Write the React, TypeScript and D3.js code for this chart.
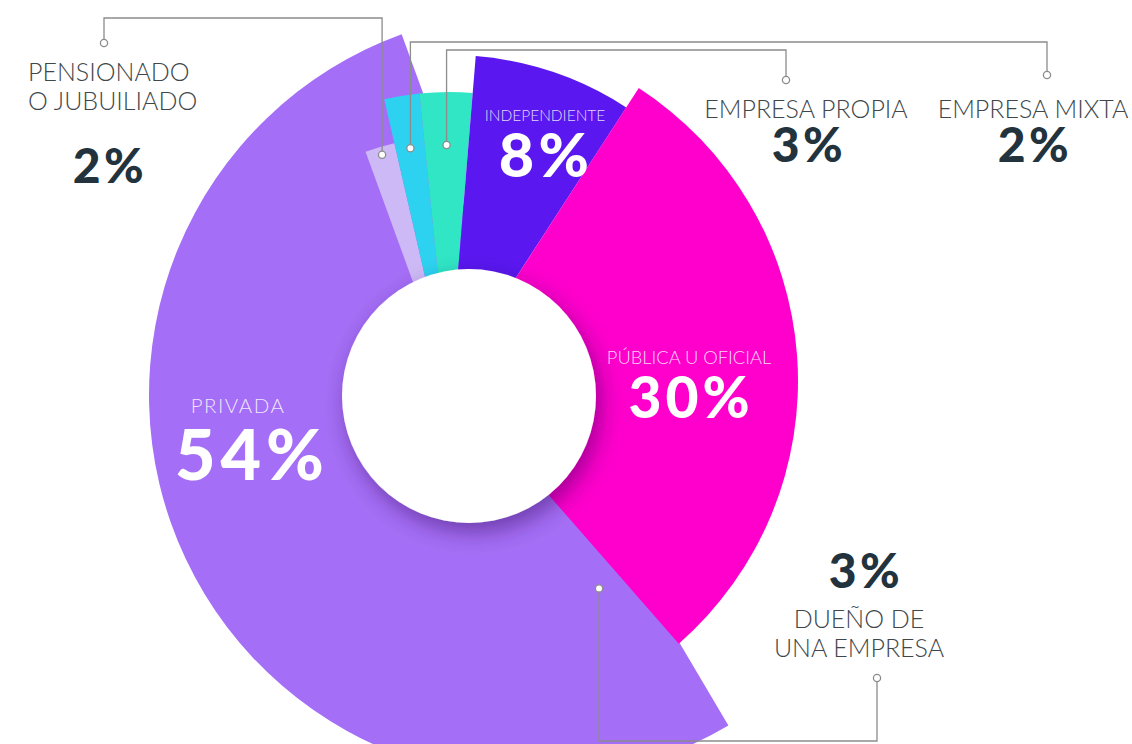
import React from "react";
import * as d3 from "d3";

// ---- data ----
const categories = [
  "PENSIONADO O JUBUILIADO",
  "EMPRESA MIXTA",
  "EMPRESA PROPIA",
  "INDEPENDIENTE",
  "PÚBLICA U OFICIAL",
  "DUEÑO DE UNA EMPRESA",
  "PRIVADA",
];
const percentages = [2, 2, 3, 8, 30, 3, 54];
const labelLines = [
  ["PENSIONADO", "O JUBUILIADO"],
  ["EMPRESA MIXTA"],
  ["EMPRESA PROPIA"],
  ["INDEPENDIENTE"],
  ["PÚBLICA U OFICIAL"],
  ["DUEÑO DE", "UNA EMPRESA"],
  ["PRIVADA"],
];

// ---- style ----
const sliceColors = ["#CDB9F5", "#2DD2F0", "#30E6C5", "#5A17F0", "#FF00CC", "#B48CF7", "#A56EF6"];
const sliceRadius = [244, 289, 289, 326, 349, 110, 384];
const sliceShift: [number, number][] = [[0, 0], [0, 0], [0, 0], [0, 0], [0, 0], [0, 0], [84, 14]];
const drawOrder = [6, 5, 0, 1, 2, 3, 4];

const W = 1132;
const H = 744;
const CX = 449;
const CY = 381;
const DEG = Math.PI / 180;
const START_DEG = -20;
const HOLE = { x: 469, y: 396, r: 127 };

const FONT = "Lato, 'Open Sans', 'Noto Sans', sans-serif";
const LINE_COLOR = "#8c8c8c";
const LABEL_COLOR = "#40474b";
const NUM_COLOR = "#22333d";

type OuterCfg = {
  lines: { x: number; anchor: "start" | "middle"; ys: number[] };
  num: { x: number; y: number };
  dot: [number, number];
  routeY: number;
  anchorR: number;
};
const outerLabels: Record<number, OuterCfg> = {
  0: { lines: { x: 28, anchor: "start", ys: [81, 110] }, num: { x: 110, y: 183 }, dot: [104, 43], routeY: 18, anchorR: 236 },
  1: { lines: { x: 1033, anchor: "middle", ys: [118] }, num: { x: 1035, y: 162 }, dot: [1047, 75], routeY: 42, anchorR: 236 },
  2: { lines: { x: 806, anchor: "middle", ys: [118] }, num: { x: 809, y: 162 }, dot: [786, 80], routeY: 50, anchorR: 236 },
  5: { lines: { x: 859, anchor: "middle", ys: [628, 657] }, num: { x: 866, y: 588 }, dot: [877, 678], routeY: 741, anchorR: 256 },
};

type InnerCfg = {
  label: { x: number; y: number; size: number; spacing: number };
  num: { x: number; y: number; size: number };
};
const innerLabels: Record<number, InnerCfg> = {
  3: { label: { x: 545, y: 121, size: 15.5, spacing: 0 }, num: { x: 546, y: 177, size: 61 } },
  4: { label: { x: 689, y: 364, size: 18.3, spacing: 0 }, num: { x: 691, y: 418, size: 57 } },
  6: { label: { x: 238, y: 413, size: 20.5, spacing: 1.5 }, num: { x: 252, y: 480, size: 70 } },
};

const NUM_SPACING = 0.07; // em

export default function App() {
  const pie = d3
    .pie<number>()
    .sort(null)
    .value((d) => d)
    .startAngle(START_DEG * DEG)
    .endAngle((START_DEG + 360) * DEG);
  const arcs = pie(percentages);

  const arcGen = (i: number) =>
    d3.arc<d3.PieArcDatum<number>>().innerRadius(0).outerRadius(sliceRadius[i])(arcs[i]) || "";

  const pointAt = (i: number, r: number): [number, number] => {
    const a = (arcs[i].startAngle + arcs[i].endAngle) / 2;
    return [CX + sliceShift[i][0] + r * Math.sin(a), CY + sliceShift[i][1] - r * Math.cos(a)];
  };

  return (
    <div style={{ position: "absolute", left: 0, top: 0, width: W, height: H, background: "#fff" }}>
      <svg width={W} height={H} viewBox={`0 0 ${W} ${H}`} style={{ display: "block" }}>
        <defs>
          <filter id="holeShadow" x="-40%" y="-40%" width="180%" height="180%">
            <feDropShadow dx="5" dy="9" stdDeviation="11" floodColor="#2a0550" floodOpacity="0.45" />
          </filter>
        </defs>
        <rect width={W} height={H} fill="#ffffff" />

        {drawOrder.map((i) => (
          <path
            key={categories[i]}
            d={arcGen(i)}
            transform={`translate(${CX + sliceShift[i][0]},${CY + sliceShift[i][1]})`}
            fill={sliceColors[i]}
          />
        ))}

        <circle cx={HOLE.x} cy={HOLE.y} r={HOLE.r} fill="#ffffff" filter="url(#holeShadow)" />

        {/* leader lines */}
        {Object.keys(outerLabels).map((k) => {
          const i = Number(k);
          const cfg = outerLabels[i];
          const [ax, ay] = pointAt(i, cfg.anchorR);
          const p = d3.path();
          p.moveTo(ax, ay);
          p.lineTo(ax, cfg.routeY);
          p.lineTo(cfg.dot[0], cfg.routeY);
          p.lineTo(cfg.dot[0], cfg.dot[1]);
          return (
            <g key={"lead" + i}>
              <path d={p.toString()} fill="none" stroke={LINE_COLOR} strokeWidth={1.3} />
              <circle cx={ax} cy={ay} r={3.6} fill="#fff" stroke={LINE_COLOR} strokeWidth={1.3} />
              <circle cx={cfg.dot[0]} cy={cfg.dot[1]} r={3.6} fill="#fff" stroke={LINE_COLOR} strokeWidth={1.3} />
            </g>
          );
        })}

        {/* outer labels */}
        {Object.keys(outerLabels).map((k) => {
          const i = Number(k);
          const cfg = outerLabels[i];
          return (
            <g key={"outer" + i} fontFamily={FONT}>
              {labelLines[i].map((line, j) => (
                <text
                  key={j}
                  x={cfg.lines.x}
                  y={cfg.lines.ys[j]}
                  textAnchor={cfg.lines.anchor}
                  fontSize={25}
                  fontWeight={300}
                  fill={LABEL_COLOR}
                >
                  {line}
                </text>
              ))}
              <text
                x={cfg.num.x}
                y={cfg.num.y}
                textAnchor="middle"
                fontSize={48}
                fontWeight={900}
                letterSpacing={48 * NUM_SPACING}
                fill={NUM_COLOR}
              >
                {`${percentages[i]}%`}
              </text>
            </g>
          );
        })}

        {/* inner labels */}
        {Object.keys(innerLabels).map((k) => {
          const i = Number(k);
          const cfg = innerLabels[i];
          return (
            <g key={"inner" + i} fontFamily={FONT}>
              <text
                x={cfg.label.x}
                y={cfg.label.y}
                textAnchor="middle"
                fontSize={cfg.label.size}
                fontWeight={300}
                letterSpacing={cfg.label.spacing}
                fill="rgba(255,255,255,0.85)"
              >
                {labelLines[i][0]}
              </text>
              <text
                x={cfg.num.x}
                y={cfg.num.y}
                textAnchor="middle"
                fontSize={cfg.num.size}
                fontWeight={900}
                letterSpacing={cfg.num.size * NUM_SPACING}
                fill="#ffffff"
              >
                {`${percentages[i]}%`}
              </text>
            </g>
          );
        })}
      </svg>
    </div>
  );
}
